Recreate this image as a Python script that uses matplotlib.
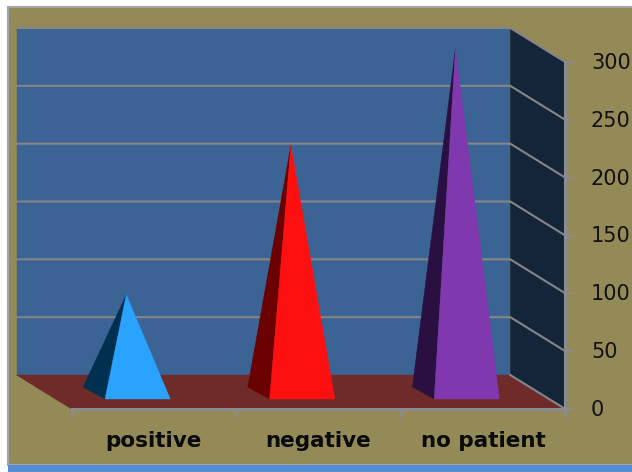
import matplotlib
matplotlib.use('Agg')
import matplotlib.pyplot as plt
from matplotlib.patches import Polygon, Rectangle

# Data
categories = ['positive', 'negative', 'no patient']
values = [85, 214, 298]
y_ticks = [0, 50, 100, 150, 200, 250, 300]

# Colours
frame_bg = '#938A57'
wall_col = '#3B6495'
side_col = '#14253A'
floor_col = '#6F2A2A'
grid_col = '#858585'
axis_col = '#8A8A90'
front_cols = ['#29A3FF', '#FF1010', '#7F38AE']
dark_cols = ['#003050', '#6B0000', '#2A1040']

# Oblique projection of the 3D chart box, in image pixels
X0 = 71.5
CAT_W = 164.6
Y0 = 409.0
PX_PER_UNIT = 347.0 / 300
DEPTH_X = 55.0
DEPTH_Y = 34.0
YMAX = 300


def proj(cat, val, depth):
    # cat in category widths, val in chart units, depth 0 (front) to 1 (back)
    x = X0 + cat * CAT_W - depth * DEPTH_X
    y = Y0 - val * PX_PER_UNIT - depth * DEPTH_Y
    return (x, y)


def add_poly(ax, pts, color, z):
    ax.add_patch(Polygon(pts, closed=True, facecolor=color, edgecolor=color, linewidth=0.3, zorder=z))


fig = plt.figure(figsize=(6.32, 4.72), dpi=100, facecolor='white')
ax = fig.add_axes([0, 0, 1, 1])
ax.set_xlim(0, 632)
ax.set_ylim(472, 0)
ax.axis('off')

# Chart area, border and blue strip at the bottom
ax.add_patch(Rectangle((8, 7), 630, 458, facecolor=frame_bg, edgecolor='#A3A3AB', linewidth=1.5, zorder=0))
ax.add_patch(Rectangle((8, 465), 630, 8, facecolor='#558ED5', edgecolor='none', zorder=1))

n = len(categories)

# Walls and floor
add_poly(ax, [proj(0, 0, 1), proj(n, 0, 1), proj(n, YMAX, 1), proj(0, YMAX, 1)], wall_col, 2)
add_poly(ax, [proj(n, 0, 1), proj(n, 0, 0), proj(n, YMAX, 0), proj(n, YMAX, 1)], side_col, 2)
add_poly(ax, [proj(0, 0, 1), proj(n, 0, 1), proj(n, 0, 0), proj(0, 0, 0)], floor_col, 3)

# Gridlines, along the back wall then down the side wall
for t in y_ticks:
    pts = [proj(0, t, 1), proj(n, t, 1), proj(n, t, 0)]
    if t == 0:
        pts = pts[1:]
    ax.plot([p[0] for p in pts], [p[1] for p in pts], color=grid_col, lw=1.5, zorder=4,
            solid_joinstyle='miter')

# Axis lines and ticks
ax.plot(*zip(proj(0, 0, 0), proj(n, 0, 0)), color=axis_col, lw=2.2, zorder=5)
ax.plot(*zip(proj(n, 0, 0), proj(n, YMAX, 0)), color=axis_col, lw=2.2, zorder=5)
for i in range(n + 1):
    x, y = proj(i, 0, 0)
    ax.plot([x, x], [y, y + 7], color=axis_col, lw=1.8, zorder=5)
for t in y_ticks:
    x, y = proj(n, t, 0)
    ax.plot([x, x + 7], [y, y], color=axis_col, lw=1.5, zorder=5)
    ax.text(591, y + 1, str(t), fontsize=15, family='DejaVu Sans', color='#111111',
            ha='left', va='center', zorder=6, clip_on=True)

# Pyramids
for i, (val, front, dark) in enumerate(zip(values, front_cols, dark_cols)):
    c = i + 0.5
    half = 0.198
    d_front = 0.294
    d_back = 0.647
    d_mid = 0.47
    apex = proj(c - 0.01, val, d_mid)
    front_l = proj(c - half, 0, d_front)
    front_r = proj(c + half, 0, d_front)
    back_l = proj(c - half - 0.015, 0, d_back)
    add_poly(ax, [back_l, front_l, apex], dark, 7)
    add_poly(ax, [front_l, front_r, apex], front, 8)

# Category labels
for i, name in enumerate(categories):
    x, _ = proj(i + 0.5, 0, 0)
    ax.text(x, 441, name, fontsize=15.5, fontweight='bold', family='DejaVu Sans', color='#0A0A0A',
            ha='center', va='center', zorder=6)

fig.savefig('out.png', dpi=100, facecolor='white')
plt.close(fig)
